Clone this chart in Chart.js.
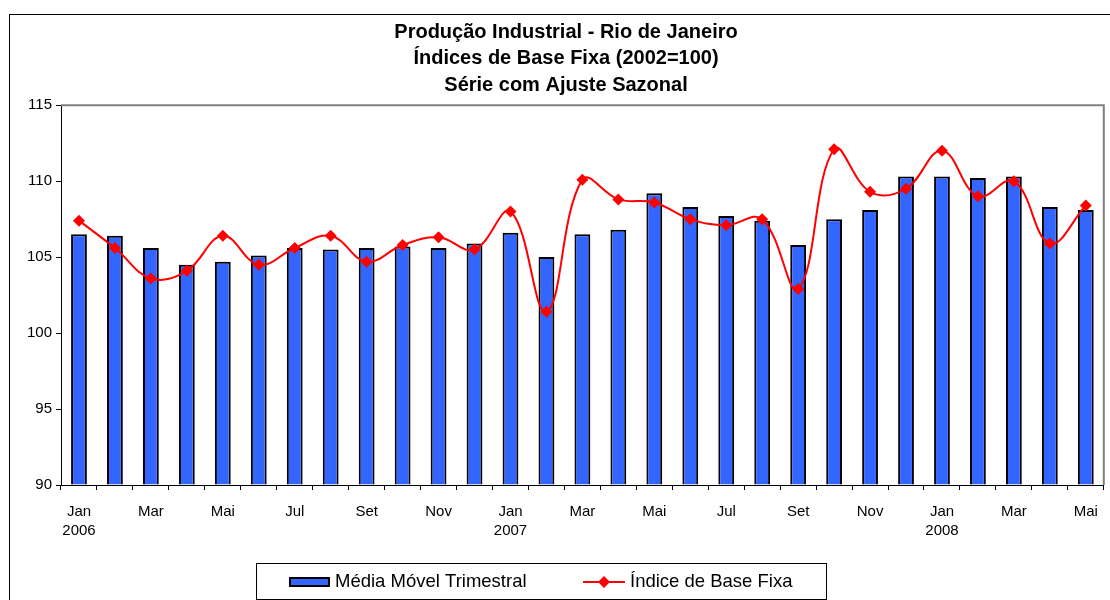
<!DOCTYPE html>
<html>
<head>
<meta charset="utf-8">
<script src="https://cdn.jsdelivr.net/npm/chart.js@4/dist/chart.umd.min.js"></script>
<style>
  body { margin: 0; background: #fff; }
  #wrap { width: 1110px; height: 600px; }
</style>
</head>
<body>
<div id="wrap"><canvas id="grafica" width="1110" height="600"></canvas></div>
<script>
// Dados (jan/2006 a mai/2008)
const meses = ["Jan","Fev","Mar","Abr","Mai","Jun","Jul","Ago","Set","Out","Nov","Dez",
               "Jan","Fev","Mar","Abr","Mai","Jun","Jul","Ago","Set","Out","Nov","Dez",
               "Jan","Fev","Mar","Abr","Mai"];
const anos = { 0: "2006", 12: "2007", 24: "2008" };

const mediaMovel = [106.5, 106.4, 105.6, 104.5, 104.7, 105.1, 105.6, 105.5, 105.6, 105.7, 105.6, 105.9,
                    106.6, 105.0, 106.5, 106.8, 109.2, 108.3, 107.7, 107.4, 105.8, 107.5, 108.1, 110.3,
                    110.3, 110.2, 110.3, 108.3, 108.1];
const indiceBase = [107.4, 105.6, 103.6, 104.1, 106.4, 104.5, 105.6, 106.4, 104.7, 105.8, 106.3, 105.5,
                    108.0, 101.4, 110.1, 108.8, 108.6, 107.5, 107.1, 107.5, 102.9, 112.1, 109.3, 109.5,
                    112.0, 109.0, 110.0, 105.9, 108.4];
const eixoY = [90, 95, 100, 105, 110, 115];

const titulo = ["Produção Industrial - Rio de Janeiro", "Índices de Base Fixa (2002=100)", "Série com Ajuste Sazonal"];
const nomeBarras = "Média Móvel Trimestral";
const nomeLinha = "Índice de Base Fixa";

const FONTE = "Arial, 'Liberation Sans', sans-serif";

// moldura, borda da área do gráfico e legenda
const extras = {
  id: "extras",
  afterDraw(chart) {
    const ctx = chart.ctx;
    const a = chart.chartArea;
    ctx.save();
    // moldura externa
    ctx.strokeStyle = "#000";
    ctx.lineWidth = 1;
    ctx.strokeRect(9.5, 14.5, 1300, 700);
    // borda cinza superior/direita
    ctx.strokeStyle = "#808080";
    ctx.lineWidth = 2;
    ctx.beginPath();
    ctx.moveTo(a.left, a.top);
    ctx.lineTo(a.right, a.top);
    ctx.lineTo(a.right, a.bottom);
    ctx.stroke();

    // legenda
    ctx.strokeStyle = "#000";
    ctx.lineWidth = 1;
    ctx.strokeRect(256.5, 563.5, 570, 36);
    ctx.fillStyle = "#3366FF";
    ctx.fillRect(289, 577, 41, 10);
    ctx.lineWidth = 2;
    ctx.strokeRect(290, 578, 39, 8);
    ctx.fillStyle = "#000";
    ctx.font = "18.5px " + FONTE;
    ctx.textBaseline = "middle";
    ctx.fillText(nomeBarras, 335, 582);
    ctx.strokeStyle = "#FF0000";
    ctx.lineWidth = 2;
    ctx.beginPath();
    ctx.moveTo(583, 582);
    ctx.lineTo(625, 582);
    ctx.stroke();
    ctx.fillStyle = "#FF0000";
    ctx.beginPath();
    ctx.moveTo(604, 576); ctx.lineTo(610, 582); ctx.lineTo(604, 588); ctx.lineTo(598, 582);
    ctx.closePath();
    ctx.fill();
    ctx.fillStyle = "#000";
    ctx.fillText(nomeLinha, 630, 582);
    ctx.restore();
  }
};

new Chart(document.getElementById("grafica"), {
  data: {
    labels: meses,
    datasets: [
      {
        type: "line",
        label: nomeLinha,
        data: indiceBase,
        borderColor: "#FF0000",
        backgroundColor: "#FF0000",
        borderWidth: 2,
        tension: 0.4,
        pointStyle: "rectRot",
        pointRadius: 6,
        pointBorderWidth: 0,
        order: 1
      },
      {
        type: "bar",
        label: nomeBarras,
        data: mediaMovel,
        backgroundColor: "#3366FF",
        borderColor: "#000",
        borderWidth: 2,
        barPercentage: 0.44,
        categoryPercentage: 1,
        base: 90,
        order: 2
      }
    ]
  },
  options: {
    responsive: false,
    animation: false,
    layout: { padding: { left: 26, right: 4, top: 0, bottom: 55 } },
    plugins: {
      legend: { display: false },
      tooltip: { enabled: false },
      title: {
        display: true,
        text: titulo,
        color: "#000",
        font: { family: FONTE, size: 20, weight: "bold", lineHeight: 1.32 },
        padding: { top: 19, bottom: 7 }
      }
    },
    scales: {
      x: {
        offset: true,
        grid: { offset: true, drawOnChartArea: false, drawTicks: true, tickLength: 5, color: "#000" },
        border: { color: "#000", width: 1 },
        afterFit: s => { s.height = 60; },
        ticks: {
          autoSkip: false,
          maxRotation: 0,
          padding: 12,
          color: "#000",
          font: { family: FONTE, size: 15, lineHeight: 1.3 },
          callback: (v, i) => {
            if (i % 2 !== 0) return "";
            return anos[i] ? [meses[i], anos[i]] : meses[i];
          }
        }
      },
      y: {
        min: eixoY[0],
        max: eixoY[eixoY.length - 1],
        afterFit: s => { s.width = 35; },
        afterBuildTicks: s => { s.ticks = eixoY.map(v => ({ value: v })); },
        grid: { drawOnChartArea: false, drawTicks: true, tickLength: 5, color: "#000" },
        border: { color: "#000", width: 1 },
        ticks: {
          padding: 4,
          color: "#000",
          font: { family: FONTE, size: 15 }
        }
      }
    }
  },
  plugins: [extras]
});
</script>
</body>
</html>
